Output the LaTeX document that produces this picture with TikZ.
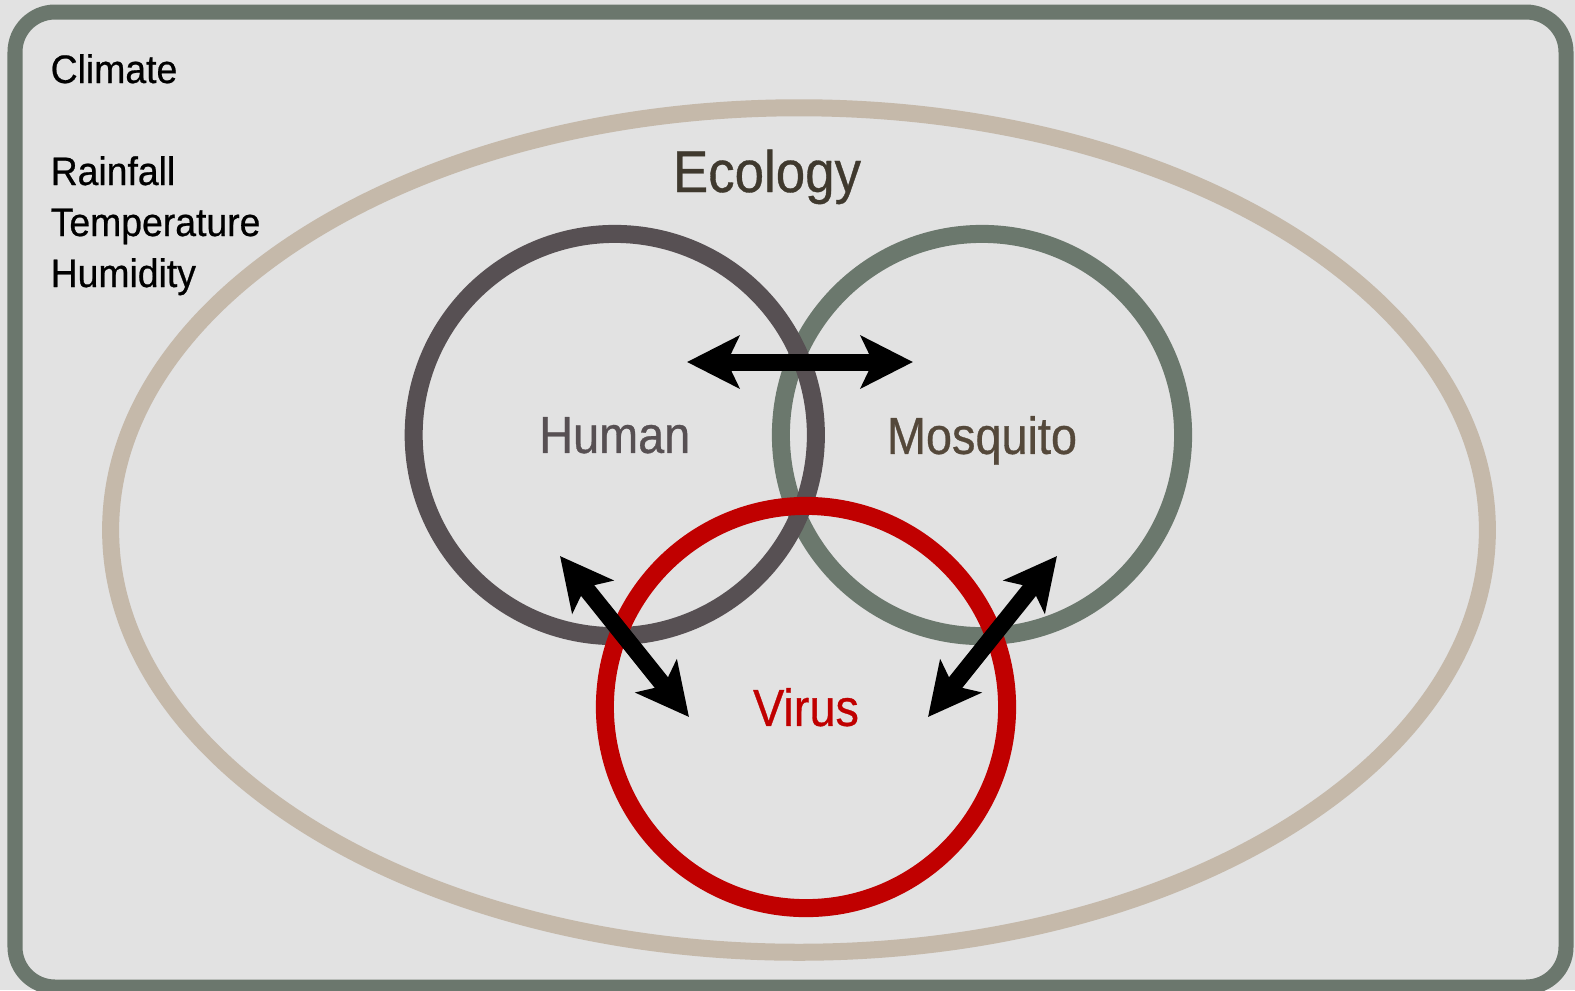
\documentclass[tikz,border=0pt]{standalone}
\usepackage{fontspec}
\setmainfont{Liberation Sans}[FakeStretch=0.9, FakeBold=0.6]
\newfontfamily\factorfont{Liberation Sans}[FakeStretch=0.94, FakeBold=0.6]
\usetikzlibrary{shapes.geometric,arrows.meta}

\definecolor{bggray}{HTML}{E2E2E2}
\definecolor{framegreen}{HTML}{6B776D}
\definecolor{ecobeige}{HTML}{C5B9AA}
\definecolor{humangray}{HTML}{575053}
\definecolor{mosqgreen}{HTML}{6B786D}
\definecolor{virusred}{HTML}{C00000}
\definecolor{mosqtext}{HTML}{54483A}
\definecolor{ecotext}{HTML}{3F392E}

\begin{document}
\begin{tikzpicture}[x=0.01cm, y=-0.01cm, node distance={3.67cm},
        ring/.style = {draw, circle, line width=0.18cm, minimum size=4.02cm, inner sep=0pt, text depth=0pt,
            font=\fontsize{14.8}{16}\selectfont},
        factor/.style = {anchor=base west, inner sep=0pt, font=\factorfont\fontsize{11.3}{13}\selectfont},
        >={Stealth[length=0.52cm, width=0.52cm, inset=0.12cm]},
        link/.style = {<->, line width=0.17cm}]
    \useasboundingbox (0,0) rectangle (1575,990);
    \fill[bggray] (0,0) rectangle (1575,990);
    \draw[framegreen, line width=0.15cm, rounded corners=0.4cm] (15,12) rectangle (1566,987);

    % climate factors
    \node[factor] (climate) at (50,83) {Climate};
    \node[factor] (rainfall) at (50,185) {Rainfall};
    \node[factor] (temperature) at (50,236) {Temperature};
    \node[factor] (humidity) at (50,287) {Humidity};

    % ecology
    \node[draw=ecobeige, ellipse, line width=0.17cm, minimum width=13.76cm, minimum height=8.44cm] (ecology) at (799,530) {};
    \node[anchor=base, text=ecotext, font=\fontsize{16.7}{18}\selectfont] (ecotitle) at (767,192) {Ecology};

    % the three rings
    \node[ring, draw=mosqgreen, text=mosqtext] (mosquito) at (982,435) {Mosquito};
    \node[ring, draw=humangray, text=humangray] (human) [left of = mosquito] {Human};
    \node[ring, draw=virusred, text=virusred] (virus) at (806,707) {Virus};

    \coordinate (hm1) at (687,362);
    \coordinate (hm2) at (913,362);
    \coordinate (hv1) at (560,556);
    \coordinate (hv2) at (689,717);
    \coordinate (mv1) at (1057,556);
    \coordinate (mv2) at (928,717);
    \draw[link] (hm1) -- (hm2);
    \draw[link] (hv1) -- (hv2);
    \draw[link] (mv1) -- (mv2);
\end{tikzpicture}
\end{document}
